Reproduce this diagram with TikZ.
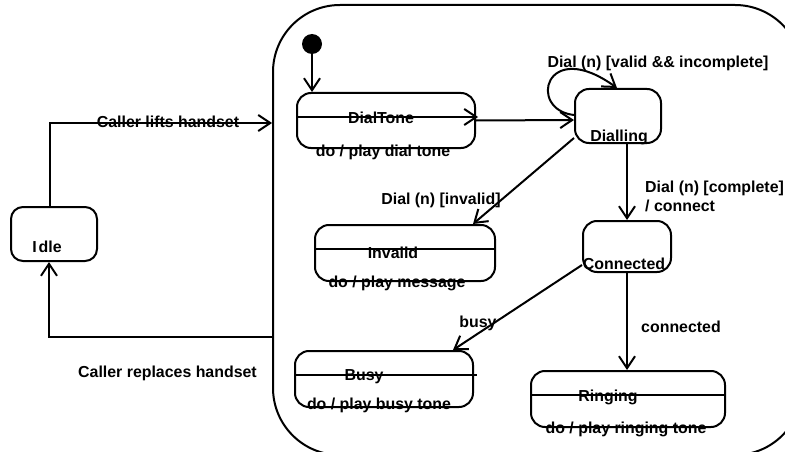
\documentclass[tikz,border=0pt]{standalone}
\usepackage{fontspec}
\newfontfamily\lblfont{Liberation Sans Bold}
\usetikzlibrary{arrows.meta,calc}
\tikzset{
  every node/.style={font=\lblfont\fontsize{15.9}{19}\selectfont, inner sep=0pt},
  statebox/.style={draw, line width=2pt, rounded corners=14pt},
  wire/.style={line width=2pt},
  trans/.style={line width=2pt, -{Straight Barb[length=12pt,width=16pt,line width=2pt]}},
  lbl/.style={anchor=center}
}
\begin{document}
\begin{tikzpicture}[x=1pt,y=-1pt]
\useasboundingbox (0,0) rectangle (785,452);
\begin{scope}
\clip (0,0) rectangle (785,452);
% composite state "active"
\node[draw, line width=2pt, rounded corners=67pt, minimum width=529pt, minimum height=450pt] (active) at (537.5,230) {};
\end{scope}

% initial pseudo-state
\node[circle, fill=black, minimum size=20pt] (init) at (312,44) {};

% simple states
\node[statebox, minimum width=178pt, minimum height=55pt] (dialtone) at (386,120.5) {};
\node[statebox, minimum width=86pt, minimum height=54pt] (dialling) at (618,116) {};
\node[statebox, minimum width=180pt, minimum height=56pt] (invalid) at (405,253) {};
\node[statebox, minimum width=88pt, minimum height=51pt] (connected) at (627,246.5) {};
\node[statebox, minimum width=178pt, minimum height=56pt] (busy) at (384,379) {};
\node[statebox, minimum width=194pt, minimum height=56pt] (ringing) at (628,399) {};
\node[statebox, minimum width=86pt, minimum height=54pt, rounded corners=12pt] (idle) at (54,234) {};

% compartment dividers
\draw[trans] ([yshift=3.5pt]dialtone.west) -- ([yshift=3.5pt,xshift=2pt]dialtone.east);
\draw[wire] ([yshift=4pt]invalid.west) -- ([yshift=4pt]invalid.east);
\draw[wire] ([yshift=4pt]busy.west) -- ([yshift=4pt,xshift=3pt]busy.east);
\draw[wire] ([yshift=4pt]ringing.west) -- ([yshift=4pt]ringing.east);

% state names and activities
\node[lbl] (t-dialtone) at (381,118) {DialTone};
\node[lbl] (a-dialtone) at (383,152) {do / play dial tone};
\node[lbl] (t-dialling) at (619,137) {Dialling};
\node[lbl] (t-invalid) at (393,253) {Invalid};
\node[lbl] (a-invalid) at (397,283) {do / play message};
\node[lbl] (t-connected) at (624,264) {Connected};
\node[lbl] (t-busy) at (364,377) {Busy};
\node[lbl] (a-busy) at (379,405) {do / play busy tone};
\node[lbl] (t-ringing) at (608,397) {Ringing};
\node[lbl] (a-ringing) at (626,429) {do / play ringing tone};
\node[lbl] (t-idle) at (47,247) {I\kern2pt dle};

% transitions
\draw[trans] (init.south) -- (init.south |- dialtone.north);
\draw[trans] (dialtone.east) -- ([yshift=-4pt]dialling.west);
\draw[trans] ([yshift=1pt]dialling.west) .. controls (527,110) and (545,36) .. ([xshift=-1pt]dialling.north);
\draw[trans] ([yshift=-22pt]dialling.west) -- ([xshift=68pt]invalid.north);
\draw[trans] (dialling.south -| connected.north) -- (connected.north);
\draw[trans] ([yshift=-18.5pt]connected.west) -- ([xshift=69pt]busy.north);
\draw[trans] (connected.south) -- (connected.south |- ringing.north);
\draw[trans] ([xshift=-4pt]idle.north) |- (active.west |- 0,123);
\draw[trans] ([xshift=2pt]active.west |- 0,337) -| ([xshift=-5pt]idle.south);

% transition labels
\node[lbl] (l-lift) at (168,122) {Caller lifts handset};
\node[lbl] (l-replace) at (167.5,373) {Caller replaces handset};
\node[lbl] (l-loop) at (658,63) {Dial (n) [valid \&\& incomplete]};
\node[lbl] (l-invalid) at (441,200) {Dial (n) [invalid]};
\node[anchor=west, align=left] (l-complete) at (645,196.5) {Dial (n) [complete]\\/ connect};
\node[lbl] (l-busy) at (478,323) {busy};
\node[lbl] (l-conn) at (681,327) {connected};
\end{tikzpicture}
\end{document}
